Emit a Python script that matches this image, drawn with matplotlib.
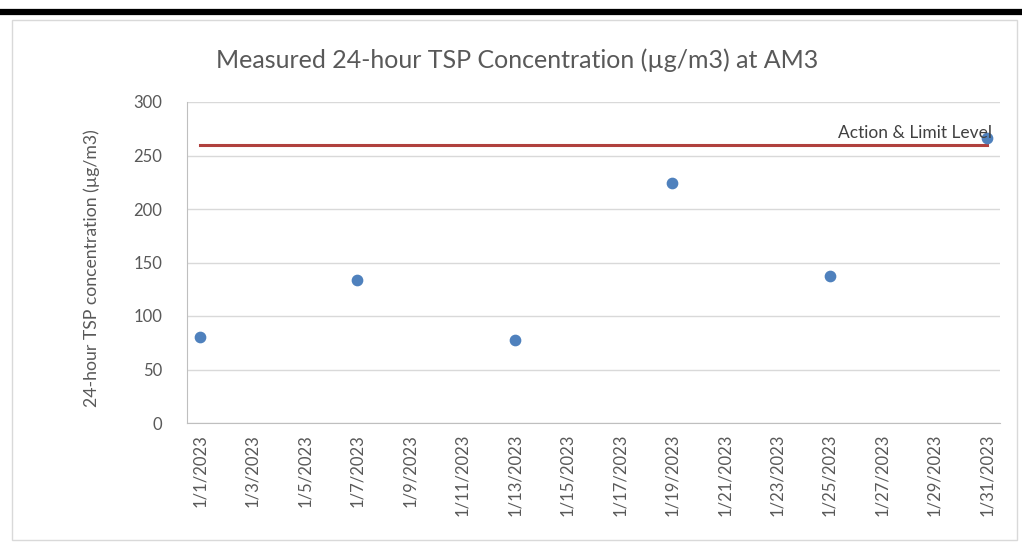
import matplotlib
matplotlib.use("Agg")
import matplotlib.pyplot as plt
from matplotlib.patches import Rectangle
from matplotlib.lines import Line2D
import numpy as np
import datetime as dt
import matplotlib.dates as mdates

plt.rcParams['font.family'] = ['Lato', 'DejaVu Sans']

dates = ["2023-01-01", "2023-01-07", "2023-01-13", "2023-01-19", "2023-01-25", "2023-01-31"]
values = [80, 134, 78, 224, 137, 266]
limit_level = 260
limit_label = "Action & Limit Level"
title = "Measured 24-hour TSP Concentration (\u00b5g/m3) at AM3"
ylabel = "24-hour TSP concentration (\u00b5g/m3)"
yticks = [0, 50, 100, 150, 200, 250, 300]

x = [dt.datetime.strptime(d, "%Y-%m-%d") for d in dates]
xn = mdates.date2num(x)

W, H = 1022, 543
fig = plt.figure(figsize=(W/100, H/100), dpi=100)

# top thick black line and chart border
fig.add_artist(Line2D([3/W, 1.0], [1-12/H, 1-12/H], color='black', lw=4.5, transform=fig.transFigure))
fig.add_artist(Rectangle((12/W, 3/H), 1005/W, (540-20)/H, fill=False, ec='#d9d9d9', lw=1, transform=fig.transFigure))

ax = fig.add_axes([187/W, 1-423/H, (1000-187)/W, (423-102)/H])

start = mdates.date2num(dt.datetime(2023, 1, 1))
end = mdates.date2num(dt.datetime(2023, 1, 31))
ax.set_xlim(start - 0.5, end + 0.5)
ax.set_ylim(0, 300)
ax.set_yticks(yticks)
ax.yaxis.grid(True, color='#d9d9d9', lw=1)
ax.set_axisbelow(True)

ticks = np.arange(start, end + 1, 2)
ax.set_xticks(ticks)
ax.set_xticklabels([f"{mdates.num2date(t).month}/{mdates.num2date(t).day}/{mdates.num2date(t).year}" for t in ticks],
                   rotation=90, fontsize=12, color='#595959')
ax.tick_params(axis='y', labelsize=12, labelcolor='#595959', length=0, pad=18)
ax.tick_params(axis='x', length=0, pad=8)

for s in ['top', 'right']:
    ax.spines[s].set_visible(False)
ax.spines['left'].set_color('#bfbfbf')
ax.spines['bottom'].set_color('#bfbfbf')

ax.plot([start, end], [limit_level, limit_level], color='#b0413e', lw=2.2, zorder=2)
ax.scatter(xn, values, s=55, color='#4f81bd', zorder=3)
ax.text(end + 0.2, limit_level + 4, limit_label, ha='right', va='bottom', fontsize=12.5, color='#404040')

fig.text(517/W, 1-60/H, title, ha='center', va='center', fontsize=18, color='#595959')
fig.text(92/W, 1-268/H, ylabel, ha='center', va='center', rotation=90, fontsize=12.7, color='#595959')

fig.savefig("out.png", dpi=100)
